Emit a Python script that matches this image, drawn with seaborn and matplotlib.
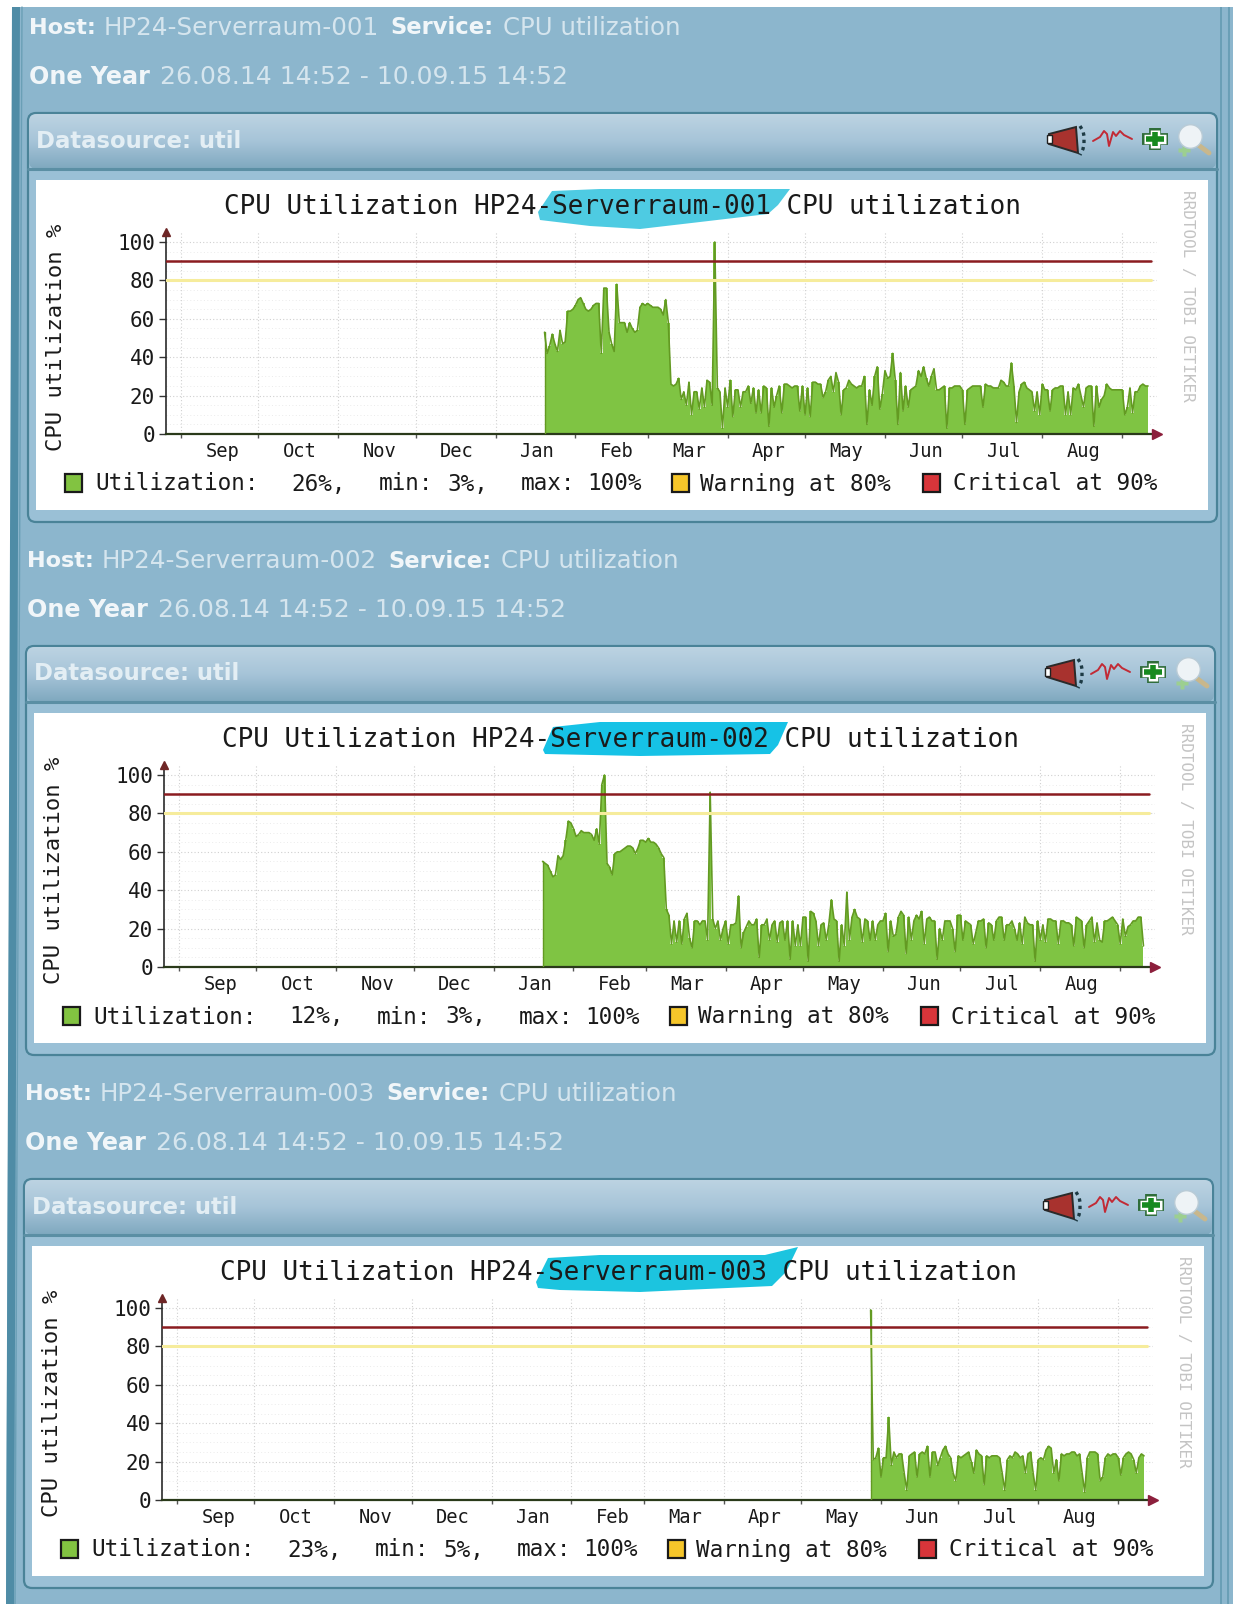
import matplotlib
matplotlib.use('Agg')
import matplotlib.pyplot as plt
import matplotlib.dates as mdates
from matplotlib.patches import FancyBboxPatch, Polygon, Rectangle
import numpy as np
import pandas as pd
import seaborn as sns

# daily CPU utilization
util_001 = [53,42,46,52,47,43,54,47,48,64,64,65,67,70,71,68,65,64,65,67,68,68,42,76,76,53,47,43,78,58,
            58,58,53,58,55,53,54,66,68,67,68,67,66,66,66,65,62,70,58,26,25,26,29,18,22,15,27,10,22,22,
            13,24,14,28,27,15,100,24,22,3,24,14,28,9,23,23,14,22,22,25,16,24,11,23,11,25,24,4,24,14,
            20,25,11,26,26,25,24,25,25,12,25,10,24,9,27,27,26,26,19,22,28,30,22,32,27,10,23,24,28,26,
            25,24,25,25,30,5,23,15,30,35,13,21,33,29,30,42,28,5,32,12,25,14,23,24,25,33,30,35,29,25,
            30,34,23,23,24,25,3,24,24,25,25,25,23,5,23,24,25,25,25,25,14,26,25,25,24,24,24,28,27,25,
            25,37,25,6,22,26,27,24,23,22,12,22,10,26,23,23,12,23,24,24,25,25,10,22,10,24,23,26,20,14,
            24,25,25,4,25,14,18,20,26,24,23,23,23,23,23,10,14,24,11,22,22,25,26,25,25]
util_002 = [55,54,53,50,47,48,58,56,58,66,76,75,72,68,69,71,70,70,70,69,66,72,64,95,100,54,52,48,59,60,
            60,61,62,63,63,62,59,62,66,66,65,67,65,65,64,62,59,57,30,27,12,24,13,24,12,25,28,15,10,24,
            24,22,24,24,14,91,25,20,24,14,20,24,12,22,22,23,37,10,18,21,24,22,22,25,5,22,22,25,14,22,
            24,13,23,24,14,24,4,24,11,22,11,26,26,3,29,28,24,11,22,23,14,22,35,25,24,3,22,11,39,14,
            26,30,26,25,13,25,24,14,24,14,22,24,24,28,8,24,16,17,26,29,27,7,26,14,24,27,25,29,12,25,
            26,24,24,4,20,14,24,24,24,20,8,27,27,14,24,23,22,12,18,24,24,25,10,23,22,14,24,26,26,14,
            22,22,24,20,14,23,12,26,23,22,22,3,24,14,22,13,25,25,24,24,12,24,24,23,23,22,11,26,25,24,
            10,22,24,26,13,23,14,13,24,24,25,26,24,22,12,25,16,21,22,24,24,26,26,11]
util_003 = [99,21,22,27,12,22,22,43,18,25,22,24,24,14,5,23,24,25,12,24,25,24,28,12,25,25,18,22,26,28,
            24,22,14,10,23,22,23,24,25,20,14,26,24,23,8,23,22,23,23,23,22,14,5,21,23,22,25,24,22,23,
            14,24,25,14,5,21,22,21,26,28,27,14,21,10,24,23,24,24,25,25,23,24,14,4,22,25,25,25,24,10,
            12,22,24,23,24,24,22,13,22,24,25,24,21,14,22,24,23]
start_dates = ['2015-01-20', '2015-01-20', '2015-05-28']
series = [util_001, util_002, util_003]

hosts = ['HP24-Serverraum-001', 'HP24-Serverraum-002', 'HP24-Serverraum-003']
current = ['26%,', '12%,', '23%,']
mins = ['3%,', '3%,', '5%,']
period = '26.08.14 14:52 - 10.09.15 14:52'
yticks = [0, 20, 40, 60, 80, 100]
warn_at, crit_at = 80, 90

# highlighter strokes over the server name
strokes = [
    [(538,212),(552,191),(600,189),(790,189),(778,205),(768,214),(700,222),(640,229),(590,226),(540,220)],
    [(543,750),(553,727),(600,722),(788,722),(778,745),(770,754),(640,756),(545,754)],
    [(536,1282),(548,1258),(600,1255),(765,1255),(798,1247),(786,1272),(772,1286),(640,1292),(560,1290),(538,1288)],
]
stroke_cols = ['#4ecbe2', '#16c2e6', '#1cc4df']

BG = '#8cb6cd'
PX_DAY = 2.579
MONO = 'DejaVu Sans Mono'

sns.set_style('white')
plt.rcParams['font.family'] = ['DejaVu Sans']

fig = plt.figure(figsize=(12.33, 16.04), dpi=100, facecolor='white')
bg = fig.add_axes([0, 0, 1, 1])
bg.axis('off')

bg.add_patch(Polygon([(13,7),(1233,7),(1233,1604),(6,1604)], fc=BG, ec='none', zorder=0))
bg.add_patch(Polygon([(12,7),(20,7),(14,1604),(6,1604)], fc='#4f8ca6', ec='none', zorder=1))
bg.plot([22,15], [7,1604], color='#6a9fb6', lw=1, zorder=1)
bg.add_patch(Polygon([(1220,7),(1222,7),(1222,1604),(1220,1604)], fc='#6a9fb6', ec='none', zorder=1))
bg.add_patch(Polygon([(1228,7),(1230,7),(1229,1604),(1227,1604)], fc='#6a9fb6', ec='none', zorder=1))

header_grad = np.linspace(0, 1, 64).reshape(-1, 1)
header_cmap = matplotlib.colors.LinearSegmentedColormap.from_list('hdr', ['#bcd3e2', '#a6c4d8', '#7fa8bf'])


def draw_icons(dx, dy):
    # horn
    bg.add_patch(Polygon([(1049+dx,134+dy),(1076+dx,127+dy),(1078+dx,153+dy),(1049+dx,144+dy)],
                         fc='#a8322e', ec='#2a2a2a', lw=1.4, zorder=5))
    bg.add_patch(Rectangle((1047+dx,135+dy), 5, 8, fc='white', ec='#222222', lw=1, zorder=6))
    bg.plot([1080+dx,1083+dx,1084+dx,1084+dx,1083+dx,1080+dx],
            [126+dy,131+dy,136+dy,144+dy,149+dy,155+dy],
            color='#1d3a44', lw=2.4, ls=(0, (1, 1.2)), zorder=5)
    # pulse
    bg.plot(np.array([1093,1100,1104,1107,1109,1113,1116,1120,1124,1128,1132]) + dx,
            np.array([141,137,131,134,146,132,136,131,135,137,139]) + dy,
            color='#c22a35', lw=1.4, zorder=5)
    # plus
    cx, cy = 1155 + dx, 139 + dy
    for half_w, half_h, col, w, z in [(13, 11, '#2f6d3a', 8.5, 5), (11, 9, 'white', 6.8, 6), (9, 7, '#178a1f', 4, 7)]:
        bg.plot([cx-half_w,cx+half_w], [cy,cy], color=col, lw=w, zorder=z, solid_capstyle='butt')
        bg.plot([cx,cx], [cy-half_h,cy+half_h], color=col, lw=w, zorder=z, solid_capstyle='butt')
    # lens
    bg.plot([1197+dx,1209+dx], [144+dy,153+dy], color='#c8b78c', lw=3.5, zorder=5)
    bg.plot([1184+dx], [150+dy], marker='P', ms=9, color='#9ccf90', mec='none', zorder=5)
    bg.plot([1190+dx], [136+dy], marker='o', ms=17, color='#eef3f6', mec='#b9cbd6', mew=1, zorder=6)


def draw_panel(i):
    dx, dy = -2 * i, 533 * i

    # page text
    bg.text(29+dx, 28+dy, 'Host:', color='#f1f6f9', weight='bold', fontsize=16.1, va='center', zorder=4)
    bg.text(104+dx, 28+dy, hosts[i], color='#d5e5ee', fontsize=17.7, va='center', zorder=4)
    bg.text(390+dx, 28+dy, 'Service:', color='#f1f6f9', weight='bold', fontsize=16.3, va='center', zorder=4)
    bg.text(503+dx, 28+dy, 'CPU utilization', color='#d5e5ee', fontsize=17.6, va='center', zorder=4)
    bg.text(29+dx, 77+dy, 'One Year', color='#f1f6f9', weight='bold', fontsize=17.2, va='center', zorder=4)
    bg.text(160+dx, 77+dy, period, color='#d5e5ee', fontsize=18, va='center', zorder=4)

    # box with header
    bg.add_patch(FancyBboxPatch((28+dx,113+dy), 1189, 409, boxstyle='round,pad=0,rounding_size=8',
                                fc='#9ac0d6', ec='#4a8398', lw=1.6, zorder=1))
    head = FancyBboxPatch((29+dx,114+dy), 1187, 55, boxstyle='round,pad=0,rounding_size=8',
                          fc='none', ec='none', zorder=2)
    bg.add_patch(head)
    im = bg.imshow(header_grad, extent=(29+dx,1216+dx,169+dy,114+dy), cmap=header_cmap,
                   aspect='auto', zorder=2)
    im.set_clip_path(head)
    bg.plot([28+dx,1217+dx], [169+dy,169+dy], color='#5b8fa4', lw=2.2, zorder=3)
    bg.text(36+dx, 141+dy, 'Datasource: util', color='#e3eef4', weight='bold', fontsize=16.4, va='center', zorder=4)
    draw_icons(dx, dy)

    # white graph area
    bg.add_patch(Rectangle((36+dx,180+dy), 1172, 330, fc='white', ec='none', zorder=3))
    bg.add_patch(Polygon(strokes[i], fc=stroke_cols[i], ec='none', zorder=4))

    bg.text(622+dx, 207+dy, 'CPU Utilization ' + hosts[i] + ' CPU utilization', family=MONO, fontsize=18.7,
            color='#1a1a1a', ha='center', va='center', zorder=5)
    bg.text(56+dx, 337+dy, 'CPU utilization %', family=MONO, fontsize=16, rotation=90,
            color='#1a1a1a', ha='center', va='center', zorder=5)
    bg.text(1188+dx, 296+dy, 'RRDTOOL / TOBI OETIKER', family=MONO, fontsize=11.5, rotation=270,
            color='#c4c4c4', ha='center', va='center', zorder=5)

    # legend
    boxes = [(65, '#82c341'), (672, '#f6c62a'), (923, '#d8353a')]
    for bx, col in boxes:
        bg.add_patch(Rectangle((bx+dx,474+dy), 17, 18, fc=col, ec='#1a1a1a', lw=1.6, zorder=5))
    pieces = [(95,'Utilization:'), (291,current[i]), (379,'min:'), (447,mins[i]), (521,'max:'),
              (587,'100%'), (700,'Warning at 80%'), (953,'Critical at 90%')]
    for px, s in pieces:
        bg.text(px+dx, 484+dy, s, family=MONO, fontsize=16.3, color='#1a1a1a', va='center', zorder=5)

    # the graph itself, placed by pixels; x axis is real dates
    sep1 = pd.Timestamp('2014-09-01')
    left_px, right_px = 166.3, 1157
    ax = fig.add_axes([(left_px+dx)/1233, 1-(434+dy)/1604, (right_px-left_px)/1233, 202/1604], zorder=6)
    ax.patch.set_alpha(0)
    x_left = sep1 + pd.Timedelta(days=(left_px-180.9)/PX_DAY)
    x_right = sep1 + pd.Timedelta(days=(right_px-180.9)/PX_DAY)

    df = pd.DataFrame({'date': pd.date_range(start_dates[i], periods=len(series[i]), freq='D'),
                       'util': series[i]})
    ax.fill_between(df['date'], 0, df['util'], color='#7fc443', lw=0, step='mid', zorder=2)
    sns.lineplot(data=df, x='date', y='util', ax=ax, color='#639a22', lw=1.2, zorder=3)
    ax.plot([df['date'].iloc[0]]*2, [0, series[i][0]], color='#639a22', lw=1, zorder=3)

    thresholds = pd.DataFrame({'date': [x_left, x_right - pd.Timedelta(days=2.3)],
                               'warn': [warn_at, warn_at], 'crit': [crit_at, crit_at]})
    sns.lineplot(data=thresholds, x='date', y='warn', ax=ax, color='#f6ec9c', lw=2.2, zorder=4)
    sns.lineplot(data=thresholds, x='date', y='crit', ax=ax, color='#8b1c20', lw=1.8, zorder=4)

    ax.set_xlim(x_left, x_right)
    ax.set_ylim(0, 202/1.92)
    ax.set_xlabel('')
    ax.set_ylabel('')

    ax.xaxis.set_major_locator(mdates.MonthLocator())
    ax.xaxis.set_major_formatter(plt.NullFormatter())
    ax.xaxis.set_minor_locator(mdates.MonthLocator(bymonthday=17))
    ax.xaxis.set_minor_formatter(mdates.DateFormatter('%b'))
    ax.tick_params(axis='x', which='major', bottom=True, length=3, width=1, color='#555555')
    ax.tick_params(axis='x', which='minor', bottom=False, length=0, pad=6, labelsize=13.5, labelcolor='#1a1a1a')
    for lab in ax.get_xticklabels(minor=True):
        lab.set_family(MONO)

    ax.set_yticks(yticks)
    ax.set_yticks(np.arange(0, 101, 5), minor=True)
    ax.tick_params(axis='y', which='major', left=True, length=5, width=1, color='#333333', pad=3,
                   labelsize=15, labelcolor='#1a1a1a')
    ax.tick_params(axis='y', which='minor', left=False)
    for lab in ax.get_yticklabels():
        lab.set_family(MONO)

    ax.grid(True, axis='y', which='major', color='#d0d0d0', lw=.8, ls=(0, (1, 2)), zorder=0)
    ax.grid(True, axis='y', which='minor', color='#ebebeb', lw=.7, ls=(0, (1, 2.5)), zorder=0)
    ax.grid(True, axis='x', which='major', color='#d0d0d0', lw=.8, ls=(0, (1, 2)), zorder=0)
    ax.set_axisbelow(True)

    sns.despine(ax=ax)
    ax.spines['left'].set_color('#2a2a2a')
    ax.spines['bottom'].set_color('#2a3a1a')
    ax.spines['left'].set_linewidth(1.2)
    ax.spines['bottom'].set_linewidth(1.6)
    ax.plot(0, 1, '^', color='#6e2626', ms=6, transform=ax.transAxes, clip_on=False, zorder=7)
    ax.plot(1, 0, '>', color='#8c1f3c', ms=7, transform=ax.transAxes, clip_on=False, zorder=7)


for n in range(3):
    draw_panel(n)

bg.set_xlim(0, 1233)
bg.set_ylim(1604, 0)

fig.savefig('out.png', dpi=100)
